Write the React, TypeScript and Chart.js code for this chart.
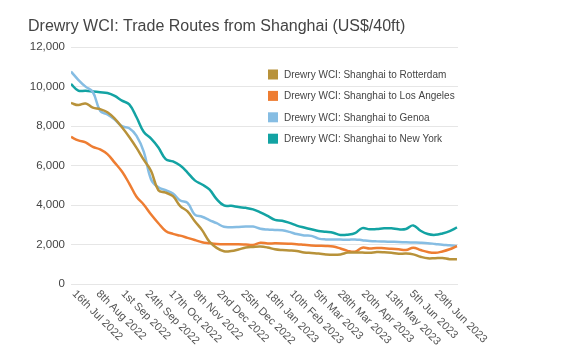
import React, { useEffect, useRef } from "react";
import { Chart, registerables } from "chart.js";

Chart.register(...registerables);

const TITLE = "Drewry WCI: Trade Routes from Shanghai (US$/40ft)";
const START_DATE = "2022-07-16";
const X_MAX_DAYS = 372;

const tickLabels = [
  "16th Jul 2022", "8th Aug 2022", "1st Sep 2022", "24th Sep 2022", "17th Oct 2022",
  "9th Nov 2022", "2nd Dec 2022", "25th Dec 2022", "18th Jan 2023", "10th Feb 2023",
  "5th Mar 2023", "28th Mar 2023", "20th Apr 2023", "13th May 2023", "5th Jun 2023",
  "29th Jun 2023",
];
const tickDates = [
  "2022-07-16", "2022-08-08", "2022-09-01", "2022-09-24", "2022-10-17",
  "2022-11-09", "2022-12-02", "2022-12-25", "2023-01-18", "2023-02-10",
  "2023-03-05", "2023-03-28", "2023-04-20", "2023-05-13", "2023-06-05",
  "2023-06-29",
];

const seriesNames = [
  "Drewry WCI: Shanghai to Rotterdam",
  "Drewry WCI: Shanghai to Los Angeles",
  "Drewry WCI: Shanghai to Genoa",
  "Drewry WCI: Shanghai to New York",
];
const seriesColors = ["#b8923a", "#ee7d32", "#86bde3", "#13a3a3"];

// weekly values, starting 16 Jul 2022
const rotterdam = [
  9170, 9065, 9150, 8940, 8860, 8700, 8380, 7940, 7450, 6900,
  6290, 5730, 4750, 4630, 4450, 3950, 3680, 3180, 2730, 2150,
  1830, 1660, 1670, 1750, 1850, 1880, 1900, 1850, 1760, 1720,
  1700, 1670, 1600, 1570, 1545, 1500, 1480, 1500, 1590, 1600,
  1590, 1580, 1620, 1610, 1580, 1530, 1540, 1500, 1380, 1300,
  1310, 1320, 1260, 1260,
];
const losAngeles = [
  7450, 7280, 7180, 6950, 6820, 6580, 6150, 5700, 5090, 4420,
  4020, 3520, 3080, 2690, 2540, 2450, 2340, 2230, 2120, 2070,
  2030, 2010, 2015, 2020, 2000, 1975, 2090, 2050, 2060, 2055,
  2040, 2020, 1985, 1950, 1940, 1930, 1900, 1800, 1680, 1640,
  1840, 1800, 1830, 1810, 1790, 1760, 1720, 1840, 1720, 1620,
  1580, 1650, 1760, 1920,
];
const genoa = [
  10765, 10350, 10000, 9730, 8780, 8590, 8330, 8000, 7890, 7510,
  6700, 5300, 4900, 4750, 4580, 4230, 4110, 3520, 3410, 3240,
  3080, 2900, 2880, 2890, 2910, 2910, 2800, 2760, 2740, 2720,
  2640, 2530, 2460, 2440, 2300, 2260, 2260, 2250, 2240, 2260,
  2220, 2180, 2160, 2150, 2140, 2130, 2110, 2100, 2090, 2070,
  2030, 1990, 1960, 1920,
];
const newYork = [
  10135, 9800, 9795, 9760, 9720, 9680, 9530, 9290, 9100, 8450,
  7700, 7370, 6920, 6330, 6210, 6000, 5650, 5250, 5040, 4790,
  4300, 3980, 3960, 3900, 3860, 3780, 3630, 3450, 3250, 3210,
  3100, 2960, 2860, 2770, 2690, 2650, 2600, 2485, 2500, 2580,
  2830, 2770, 2790, 2820, 2820, 2770, 2790, 2970, 2700, 2530,
  2490, 2560, 2680, 2870,
];

const yTicks = [0, 2000, 4000, 6000, 8000, 10000, 12000];

const FONT = "'Liberation Sans', Arial, sans-serif";
const DAY = 86400000;
const dayOffset = (d: string) => Math.round((Date.parse(d) - Date.parse(START_DATE)) / DAY);

const allSeries = [rotterdam, losAngeles, genoa, newYork];

const customPlugin = {
  id: "customDraw",
  afterDraw(chart: any) {
    const ctx = chart.ctx;
    const xs = chart.scales.x;
    const area = chart.chartArea;
    ctx.save();
    // x tick labels, rotated 45deg going down-right
    ctx.font = `11px ${FONT}`;
    ctx.fillStyle = "#555";
    ctx.textAlign = "left";
    ctx.textBaseline = "middle";
    tickLabels.forEach((lab, i) => {
      const px = xs.getPixelForValue(dayOffset(tickDates[i]));
      ctx.save();
      ctx.translate(px + 3, area.bottom + 8);
      ctx.rotate(Math.PI / 4);
      ctx.fillText(lab, 0, 0);
      ctx.restore();
    });
    // legend in chart area
    ctx.font = `10px ${FONT}`;
    ctx.textBaseline = "middle";
    chart.data.datasets.forEach((ds: any, i: number) => {
      const cy = 74.5 + i * 21.4;
      ctx.fillStyle = ds.borderColor;
      ctx.fillRect(268, cy - 5, 10, 10);
      ctx.fillStyle = "#444";
      ctx.fillText(ds.label, 284, cy + 0.5);
    });
    ctx.restore();
  },
};

export default function App() {
  const ref = useRef<HTMLCanvasElement>(null);
  useEffect(() => {
    if (!ref.current) return;
    const chart = new Chart(ref.current, {
      type: "line",
      data: {
        datasets: allSeries.map((vals, si) => ({
          label: seriesNames[si],
          data: vals.map((v, i) => ({ x: i * 7, y: v })),
          borderColor: seriesColors[si],
          backgroundColor: seriesColors[si],
          borderWidth: 2.5,
          pointRadius: 0,
          tension: 0.4,
          fill: false,
        })),
      },
      options: {
        animation: false,
        responsive: false,
        layout: { padding: { left: 28, right: 107, top: 0, bottom: 60 } },
        plugins: {
          legend: { display: false },
          tooltip: { enabled: false },
          title: {
            display: true,
            text: TITLE,
            align: "start",
            color: "#444",
            font: { family: FONT, size: 16, weight: "normal" },
            padding: { top: 17, bottom: 11 },
          },
        },
        scales: {
          x: {
            type: "linear",
            min: 0,
            max: X_MAX_DAYS,
            ticks: { display: false },
            grid: { display: false },
            border: { display: false },
          },
          y: {
            min: 0,
            max: 12000,
            afterBuildTicks: (axis: any) => {
              axis.ticks = yTicks.map((v) => ({ value: v }));
            },
            afterFit: (axis: any) => {
              axis.width = 43;
            },
            ticks: {
              color: "#444",
              padding: 6,
              font: { family: FONT, size: 11.5 },
              callback: (v: any) => Number(v).toLocaleString("en-US"),
            },
            grid: { color: "#e6e6e6", drawTicks: false, lineWidth: 1 },
            border: { display: false },
          },
        },
      },
      plugins: [customPlugin],
    });
    return () => chart.destroy();
  }, []);
  return (
    <div style={{ position: "absolute", left: 0, top: 0, width: 565, height: 352, background: "#fff" }}>
      <canvas ref={ref} width={565} height={352} />
    </div>
  );
}
